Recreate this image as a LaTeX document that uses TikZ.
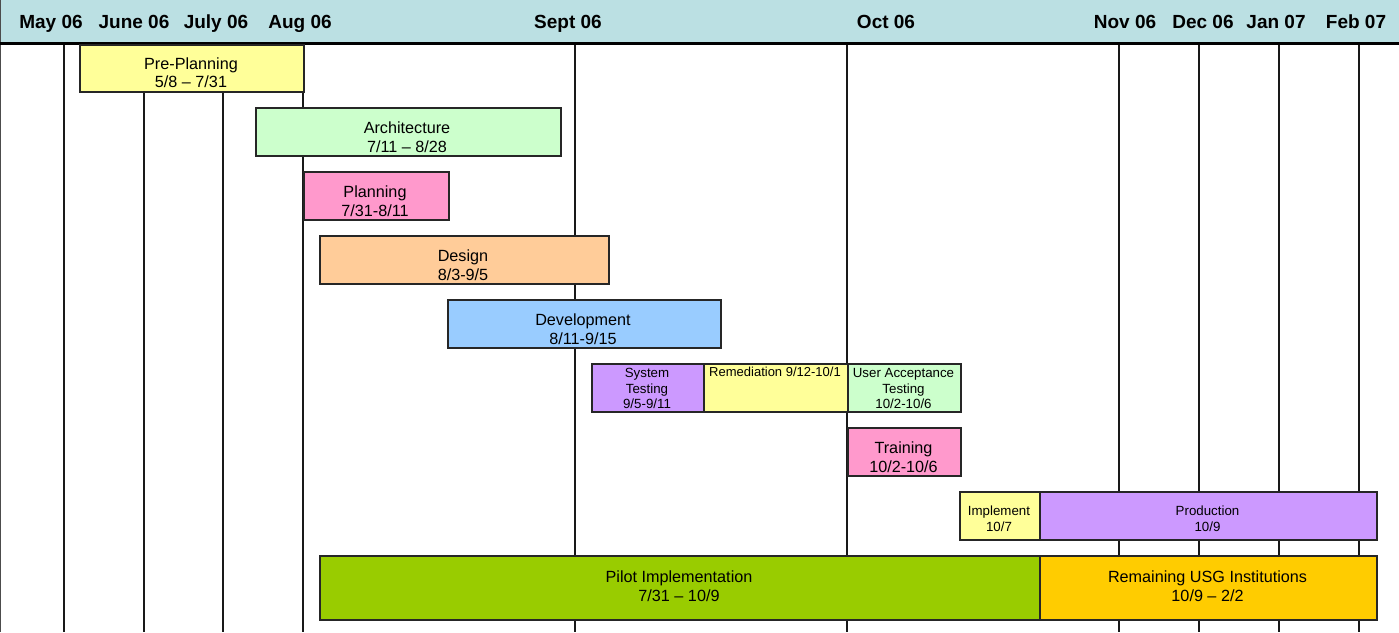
\documentclass[tikz,border=0pt]{standalone}
\usepackage{fontspec}
\setmainfont{Liberation Sans}
\definecolor{hdr}{HTML}{BBE0E3}
\definecolor{cyel}{HTML}{FFFF99}
\definecolor{cgrn}{HTML}{CCFFCC}
\definecolor{cpnk}{HTML}{FF99CC}
\definecolor{corg}{HTML}{FFCC99}
\definecolor{cblu}{HTML}{99CCFF}
\definecolor{cpur}{HTML}{CC99FF}
\definecolor{clim}{HTML}{99CC00}
\definecolor{cgld}{HTML}{FFCC00}
\tikzset{
  taskbox/.style={draw=black!85, line width=1.6pt, inner sep=0pt, anchor=north west},
  vline/.style={draw=black!90, line width=1.3pt},
  month/.style={font=\bfseries\fontsize{19}{21}\selectfont, inner sep=0pt, anchor=base},
  lbl/.style={align=center, inner sep=0pt, text=black},
  big/.style={font=\fontsize{16.2}{19}\selectfont},
  small/.style={font=\fontsize{13.3}{15.5}\selectfont},
}
\begin{document}
\begin{tikzpicture}[x=1pt,y=-1pt]
\useasboundingbox (0,0) rectangle (1399,632);
% header
\fill[hdr] (0,0) rectangle (1399,43);
\draw[black!70, line width=1pt] (0.5,0) -- (0.5,632);
% vertical month lines
\foreach \xx/\nm in {64/a,144/b,223/c,303/d,575/e,847/f,1119/g,1199/h,1279/i,1359/j}{
  \coordinate (t\nm) at (\xx,43);
  \coordinate (b\nm) at (\xx,632);
  \draw[vline] (t\nm) -- (b\nm);
}
\draw[black, line width=3pt] (0,43) -- (1399,43);
% month labels
\node[month] (m1) at (51,28.5) {May 06};
\node[month] (m2) at (134,28.5) {June 06};
\node[month] (m3) at (216,28.5) {July 06};
\node[month] (m4) at (300,28.5) {Aug 06};
\node[month] (m5) at (568,28.5) {Sept 06};
\node[month] (m6) at (886,28.5) {Oct 06};
\node[month] (m7) at (1125,28.5) {Nov 06};
\node[month] (m8) at (1203,28.5) {Dec 06};
\node[month] (m9) at (1276,28.5) {Jan 07};
\node[month] (m10) at (1356,28.5) {Feb 07};
% boxes
\node[taskbox, fill=cyel, minimum width=224, minimum height=47] (pre) at (79,44) {};
\node[lbl, font=\fontsize{16.2}{18}\selectfont] (pret) at (191,73) {Pre-Planning\\5/8 -- 7/31};
\node[taskbox, fill=cgrn, minimum width=305, minimum height=48] (arch) at (255,107) {};
\node[lbl, big] (archt) at (407,137.5) {Architecture\\7/11 -- 8/28};
\node[taskbox, fill=cpnk, minimum width=145, minimum height=48] (plan) at (303,171) {};
\node[lbl, big] (plant) at (375,201.5) {Planning\\7/31-8/11};
\node[taskbox, fill=corg, minimum width=289, minimum height=48] (des) at (319,235) {};
\node[lbl, big] (dest) at (463,265.5) {Design\\8/3-9/5};
\node[taskbox, fill=cblu, minimum width=273, minimum height=48] (dev) at (447,299) {};
\node[lbl, big] (devt) at (583,329.5) {Development\\8/11-9/15};
\node[taskbox, fill=cpur, minimum width=112, minimum height=48] (sys) at (591,363) {};
\node[lbl, small] (syst) at (647,388.5) {System\\Testing\\9/5-9/11};
\node[taskbox, fill=cyel, minimum width=144, minimum height=48] (rem) at (703,363) {};
\node[lbl, font=\fontsize{13}{15.5}\selectfont] (remt) at (775,372) {Remediation 9/12-10/1};
\node[taskbox, fill=cgrn, minimum width=113, minimum height=48] (uat) at (847,363) {};
\node[lbl, small] (uatt) at (903.5,388.5) {User Acceptance\\Testing\\10/2-10/6};
\node[taskbox, fill=cpnk, minimum width=113, minimum height=48] (trn) at (847,427) {};
\node[lbl, font=\fontsize{16.2}{19}\selectfont] (trnt) at (903.5,457.5) {Training\\10/2-10/6};
\node[taskbox, fill=cyel, minimum width=80, minimum height=48] (imp) at (959,491) {};
\node[lbl, small] (impt) at (999,518.5) {Implement\\10/7};
\node[taskbox, fill=cpur, minimum width=337, minimum height=48] (prod) at (1039,491) {};
\node[lbl, small] (prodt) at (1207.5,518.5) {Production\\10/9};
\node[taskbox, fill=clim, minimum width=720, minimum height=64] (pil) at (319,555) {};
\node[lbl, big] (pilt) at (679,586.5) {Pilot Implementation\\7/31 -- 10/9};
\node[taskbox, fill=cgld, minimum width=337, minimum height=64] (rus) at (1039,555) {};
\node[lbl, big] (rust) at (1207.5,586.5) {Remaining USG Institutions\\10/9 -- 2/2};
\end{tikzpicture}
\end{document}
